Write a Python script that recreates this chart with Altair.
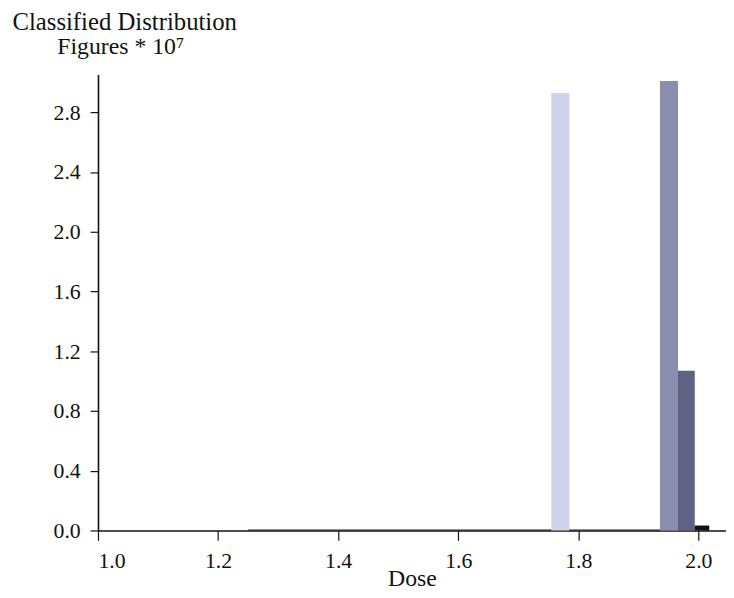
import altair as alt
import pandas as pd

# Bars (dose bin start, bin end, value in units of 10^7)
bin_start = [1.25, 1.755, 1.936, 1.966, 1.994]
bin_end = [1.936, 1.785, 1.966, 1.994, 2.018]
values = [0.007, 2.93, 3.01, 1.07, 0.033]
series = ["base", "light", "mid", "dark", "black"]
series_colors = ["#222222", "#d0d1ea", "#8a8eae", "#5f6283", "#111111"]

x_ticks = [1.0, 1.2, 1.4, 1.6, 1.8, 2.0]
y_ticks = [0.0, 0.4, 0.8, 1.2, 1.6, 2.0, 2.4, 2.8]

df = pd.DataFrame({"start": bin_start, "end": bin_end, "value": values, "series": series})

FONT = "Liberation Serif"

bars = alt.Chart(df).mark_rect().encode(
    x=alt.X("start:Q",
            scale=alt.Scale(domain=[1.0, 2.046], nice=False, zero=False),
            axis=alt.Axis(values=x_ticks, format=".1f", title="Dose",
                          grid=False, tickSize=10, labelPadding=10,
                          titlePadding=-4)),
    x2="end:Q",
    y=alt.Y("value:Q",
            scale=alt.Scale(domain=[0, 3.053], nice=False),
            axis=alt.Axis(values=y_ticks, format=".1f", title=None,
                          grid=False, tickSize=8, labelPadding=10)),
    y2=alt.datum(0),
    color=alt.Color("series:N", scale=alt.Scale(domain=series, range=series_colors), legend=None),
)

title1 = alt.Chart(alt.Data(values=[{}])).mark_text(
    font=FONT, fontSize=25, align="center", baseline="alphabetic", color="#111"
).encode(x=alt.value(27), y=alt.value(-45), text=alt.value("Classified Distribution"))

title2 = alt.Chart(alt.Data(values=[{}])).mark_text(
    font=FONT, fontSize=24, align="center", baseline="alphabetic", color="#111"
).encode(x=alt.value(23), y=alt.value(-21), text=alt.value("Figures * 10⁷"))

chart = alt.layer(bars, title1, title2).properties(
    width=635, height=461,
    autosize=alt.AutoSizeParams(type="none"),
    padding={"left": 91, "top": 64, "right": 0, "bottom": 62},
).configure_view(stroke=None).configure_axis(
    domainColor="#111", domainWidth=1.6, tickColor="#111", tickWidth=1.2,
    labelFont=FONT, labelFontSize=22, labelColor="#111",
    titleFont=FONT, titleFontSize=24, titleColor="#111", titleFontWeight="normal",
)

chart.save("out.html", embed_options={"renderer": "svg", "actions": False})
